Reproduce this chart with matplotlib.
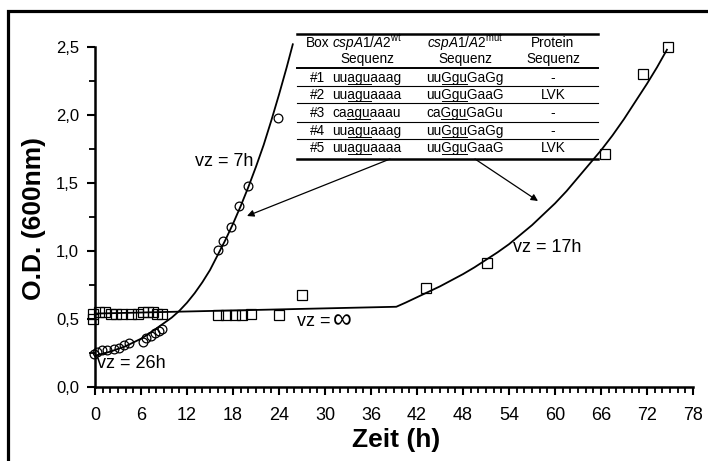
import numpy as np
import matplotlib
matplotlib.use('Agg')
import matplotlib.pyplot as plt
from matplotlib.lines import Line2D
from matplotlib.patches import Rectangle, FancyArrowPatch
from matplotlib.font_manager import FontProperties
from matplotlib.ticker import MultipleLocator, FixedLocator

plt.rcParams['font.family'] = ['Liberation Sans', 'DejaVu Sans']
plt.rcParams['mathtext.fontset'] = 'custom'
plt.rcParams['mathtext.rm'] = 'Liberation Sans'
plt.rcParams['mathtext.it'] = 'Liberation Sans:italic'

W, H = 708, 461

# circles (cspA1/A2 wt)
circ_t = [-0.1, 0.3, 0.9, 1.6, 2.5, 3.1, 3.8, 4.4, 6.2, 6.6, 7.3, 7.8, 8.4, 8.8,
          16.1, 16.7, 17.8, 18.8, 20.0, 23.9]
circ_y = [0.24, 0.26, 0.27, 0.27, 0.28, 0.29, 0.31, 0.32, 0.33, 0.36, 0.375, 0.40, 0.41, 0.43,
          1.01, 1.07, 1.18, 1.33, 1.48, 1.98]
# fitted curve for circles
circ_fit_t = [0, 2, 4, 6, 7, 8, 9, 10, 11, 12, 13, 14, 15, 16, 17, 18, 19, 20,
              21, 22, 23, 24, 25, 25.8]
circ_fit_y = [0.23, 0.26, 0.30, 0.355, 0.39, 0.43, 0.47, 0.51, 0.56, 0.62, 0.69, 0.77,
              0.86, 0.97, 1.08, 1.20, 1.33, 1.47, 1.62, 1.78, 1.96, 2.15, 2.35, 2.52]

# squares (cspA1/A2 mut)
sq_t = [-0.3, -0.3, 0.5, 1.3, 2.1, 2.8, 3.5, 4.7, 5.6, 6.3, 6.9, 7.6, 8.1, 8.8,
        16.1, 17.1, 18.2, 19.2, 20.3, 24.0, 27.0, 43.2, 51.1, 66.5, 71.5, 74.7]
sq_y = [0.50, 0.54, 0.55, 0.55, 0.54, 0.54, 0.54, 0.54, 0.54, 0.55, 0.55, 0.55, 0.54, 0.54,
        0.53, 0.53, 0.53, 0.53, 0.54, 0.53, 0.68, 0.73, 0.91, 1.71, 2.30, 2.50]
sq_fit_t = [0, 39.3, 40.5, 42, 43.5, 45, 46.5, 48, 49.5, 51, 52.5, 54, 55.5, 57, 58.5,
            60, 61.5, 63, 64.5, 66, 67.5, 69, 70.5, 72, 73.3, 74.6]
sq_fit_y = [0.54, 0.59, 0.62, 0.66, 0.70, 0.74, 0.785, 0.83, 0.88, 0.935, 0.99, 1.05,
            1.12, 1.19, 1.27, 1.35, 1.44, 1.54, 1.64, 1.74, 1.85, 1.97, 2.10, 2.23,
            2.35, 2.48]

x_ticks = list(range(0, 79, 6))
y_ticks = [0.0, 0.5, 1.0, 1.5, 2.0, 2.5]
y_labels = ['0,0', '0,5', '1,0', '1,5', '2,0', '2,5']

# table content
box_ids = ['#1', '#2', '#3', '#4', '#5']
seq_wt = ['uuaguaaag', 'uuaguaaaa', 'caaguaaau', 'uuaguaaag', 'uuaguaaaa']
seq_mut = ['uuGguGaGg', 'uuGguGaaG', 'caGguGaGu', 'uuGguGaGg', 'uuGguGaaG']
protein = ['-', 'LVK', '-', '-', 'LVK']


def fx(x):
    return x / W


def fy(y):
    return 1 - y / H


fig = plt.figure(figsize=(W / 100, H / 100), dpi=100)
ax = fig.add_axes([fx(95), fy(387), 598 / W, 340 / H])

ax.plot(circ_fit_t, circ_fit_y, color='black', lw=1.3, clip_on=False)
ax.plot(sq_fit_t, sq_fit_y, color='black', lw=1.3, clip_on=False)
ax.plot(circ_t, circ_y, 'o', ms=6.3, mfc='none', mec='black', mew=0.9, clip_on=False)
ax.plot(sq_t, sq_y, 's', ms=6.5, mfc='none', mec='black', mew=0.9, clip_on=False)

ax.set_xlim(0, 78)
ax.set_ylim(0, 2.5)
ax.spines['top'].set_visible(False)
ax.spines['right'].set_visible(False)
ax.spines['left'].set_linewidth(1.8)
ax.spines['bottom'].set_linewidth(1.8)
ax.xaxis.set_major_locator(FixedLocator(x_ticks))
ax.xaxis.set_minor_locator(MultipleLocator(1))
ax.set_yticks(y_ticks)
ax.set_yticklabels(y_labels)
ax.yaxis.set_minor_locator(MultipleLocator(0.25))
ax.tick_params(axis='both', which='major', direction='out', length=5.5, width=1.5)
ax.tick_params(axis='both', which='minor', direction='out', length=4, width=1.3)
ax.tick_params(axis='y', labelsize=12, pad=6)
ax.tick_params(axis='x', labelsize=13, pad=9)

fig.text(fx(34), fy(218), 'O.D. (600nm)', rotation=90, ha='center', va='center',
         fontsize=19, fontweight='bold')
fig.text(fx(396), fy(440), 'Zeit (h)', ha='center', va='center',
         fontsize=19, fontweight='bold')

# doubling time labels
fig.text(fx(195), fy(162), 'vz = 7h', ha='left', va='center', fontsize=13)
fig.text(fx(97), fy(364), 'vz = 26h', ha='left', va='center', fontsize=13)
fig.text(fx(513), fy(247), 'vz = 17h', ha='left', va='center', fontsize=13)
fig.text(fx(297), fy(321), 'vz =', ha='left', va='center', fontsize=13)
fig.text(fx(333), fy(320), '\u221e', ha='left', va='center', fontsize=19)

# outer frame
fig.add_artist(Rectangle((fx(8), -0.2), 1.5, fy(11) + 0.2, fill=False, lw=2.3,
                         edgecolor='black', transform=fig.transFigure))

# table
tx0, tx1 = 297, 598
for yy, lw in [(34, 1.8), (68, 1.4), (86, 0.8), (103, 0.8), (122, 0.8), (139, 0.8), (159, 1.8)]:
    fig.add_artist(Line2D([fx(tx0), fx(tx1)], [fy(yy), fy(yy)], color='black', lw=lw,
                          transform=fig.transFigure))

col_box, col_wt, col_mut, col_prot = 318, 367, 465, 553
fs_tab = 9.8
fig.text(fx(col_box), fy(43), 'Box', ha='center', va='center', fontsize=fs_tab)
fig.text(fx(col_wt), fy(43), r'$\mathit{cspA1/A2}^{\mathrm{wt}}$', ha='center', va='center',
         fontsize=fs_tab)
fig.text(fx(col_mut), fy(43), r'$\mathit{cspA1/A2}^{\mathrm{mut}}$', ha='center', va='center',
         fontsize=fs_tab)
fig.text(fx(col_prot), fy(43), 'Protein', ha='center', va='center', fontsize=fs_tab)
for cx in [col_wt, col_mut, col_prot]:
    fig.text(fx(cx), fy(59), 'Sequenz', ha='center', va='center', fontsize=fs_tab)

fig.canvas.draw()
renderer = fig.canvas.get_renderer()
fp = FontProperties(family='Liberation Sans', size=fs_tab)


def text_w(s):
    w, h, d = renderer.get_text_width_height_descent(s, fp, False)
    return w


def underline(cx, cy, s, i0, i1):
    left = cx - text_w(s) / 2
    a = left + text_w(s[:i0])
    b = left + text_w(s[:i1])
    fig.add_artist(Line2D([fx(a), fx(b)], [fy(cy + 6), fy(cy + 6)], color='black', lw=0.7,
                          transform=fig.transFigure))


row_y = [78, 95, 113, 131, 148]
for i, ry in enumerate(row_y):
    fig.text(fx(col_box), fy(ry), box_ids[i], ha='center', va='center', fontsize=fs_tab)
    fig.text(fx(col_wt), fy(ry), seq_wt[i], ha='center', va='center', fontsize=fs_tab)
    fig.text(fx(col_mut), fy(ry), seq_mut[i], ha='center', va='center', fontsize=fs_tab)
    fig.text(fx(col_prot), fy(ry), protein[i], ha='center', va='center', fontsize=fs_tab)
    underline(col_wt, ry, seq_wt[i], 2, 5)
    underline(col_mut, ry, seq_mut[i], 2, 5)

# arrows from the table to the curves
arrow_kw = dict(arrowstyle='-|>', color='black', lw=0.9, mutation_scale=10, shrinkA=0, shrinkB=0)
fig.add_artist(FancyArrowPatch((fx(390), fy(159)), (fx(247), fy(216)),
                               transform=fig.transFigure, **arrow_kw))
fig.add_artist(FancyArrowPatch((fx(475), fy(159)), (fx(538), fy(201)),
                               transform=fig.transFigure, **arrow_kw))

fig.savefig('out.png', dpi=100)
